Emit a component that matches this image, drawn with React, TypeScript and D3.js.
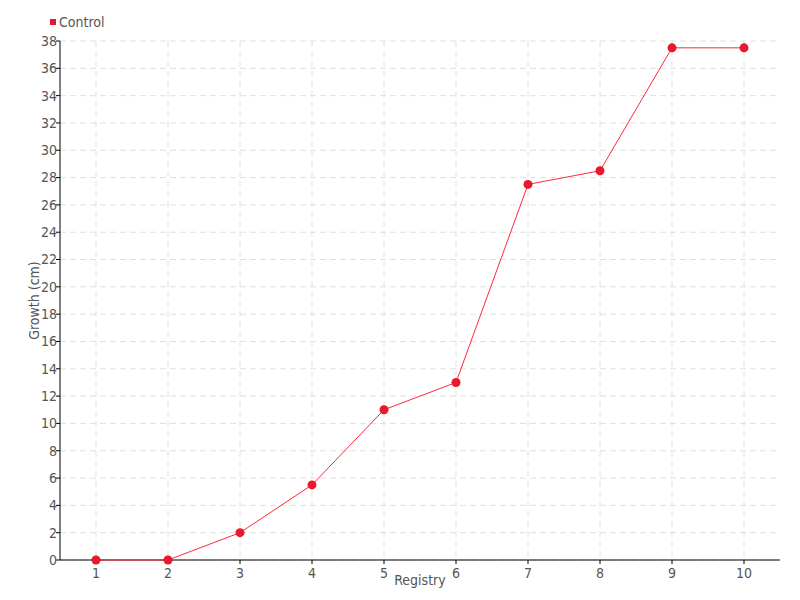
import React from "react";
import * as d3 from "d3";

const categories = ["1", "2", "3", "4", "5", "6", "7", "8", "9", "10"];
const controlValues = [0, 0, 2, 5.5, 11, 13, 27.5, 28.5, 37.5, 37.5];
const yTicks = d3.range(0, 40, 2);
const seriesName = "Control";

const W = 800, H = 600;
const left = 60, right = 780, top = 41, bottom = 560;
const FONT = "'DejaVu Sans Condensed', 'Liberation Sans Narrow', sans-serif";

export default function App() {
  const x = d3.scaleBand().domain(categories).range([left, right]);
  const y = d3.scaleLinear().domain([0, 38]).range([bottom, top]);
  const cx = (c: string) => (x(c) as number) + x.bandwidth() / 2;
  const line = d3.line<number>().x((_, i) => cx(categories[i])).y((d) => y(d));
  return (
    <svg width={W} height={H} style={{ position: "absolute", left: 0, top: 0, fontFamily: FONT }}>
      <rect width={W} height={H} fill="#fff" />
      {yTicks.map((t) => (
        <line key={"gy" + t} x1={left} x2={right} y1={y(t)} y2={y(t)} stroke="#e0e0e0" strokeDasharray="6,4" />
      ))}
      {categories.map((c) => (
        <line key={"gx" + c} x1={cx(c)} x2={cx(c)} y1={top} y2={bottom} stroke="#e0e0e0" strokeDasharray="6,4" />
      ))}
      <line x1={left} x2={left} y1={top} y2={bottom} stroke="#000" />
      <line x1={left} x2={right} y1={bottom} y2={bottom} stroke="#000" />
      {yTicks.map((t) => (
        <g key={"ty" + t}>
          <line x1={left - 4} x2={left} y1={y(t)} y2={y(t)} stroke="#000" />
          <text x={left - 3} y={y(t)} dy="0.35em" textAnchor="end" fontSize={14} fill="#555">{t}</text>
        </g>
      ))}
      {categories.map((c) => (
        <g key={"tx" + c}>
          <line x1={cx(c)} x2={cx(c)} y1={bottom} y2={bottom + 4} stroke="#000" />
          <text x={cx(c)} y={bottom + 18} textAnchor="middle" fontSize={14} fill="#555">{c}</text>
        </g>
      ))}
      <text x={(left + right) / 2} y={585} textAnchor="middle" fontSize={14} fill="#555">Registry</text>
      <text transform={`translate(39,${(top + bottom) / 2}) rotate(-90)`} textAnchor="middle" fontSize={14} fill="#555">Growth (cm)</text>
      <path d={line(controlValues) || ""} fill="none" stroke="#ff2a3a" strokeWidth={1} />
      {controlValues.map((v, i) => (
        <circle key={"p" + i} cx={cx(categories[i])} cy={y(v)} r={4.5} fill="#e8192c" />
      ))}
      <rect x={50} y={19} width={6} height={6} fill="#e8192c" />
      <text x={59} y={27} fontSize={14} fill="#555">{seriesName}</text>
    </svg>
  );
}
